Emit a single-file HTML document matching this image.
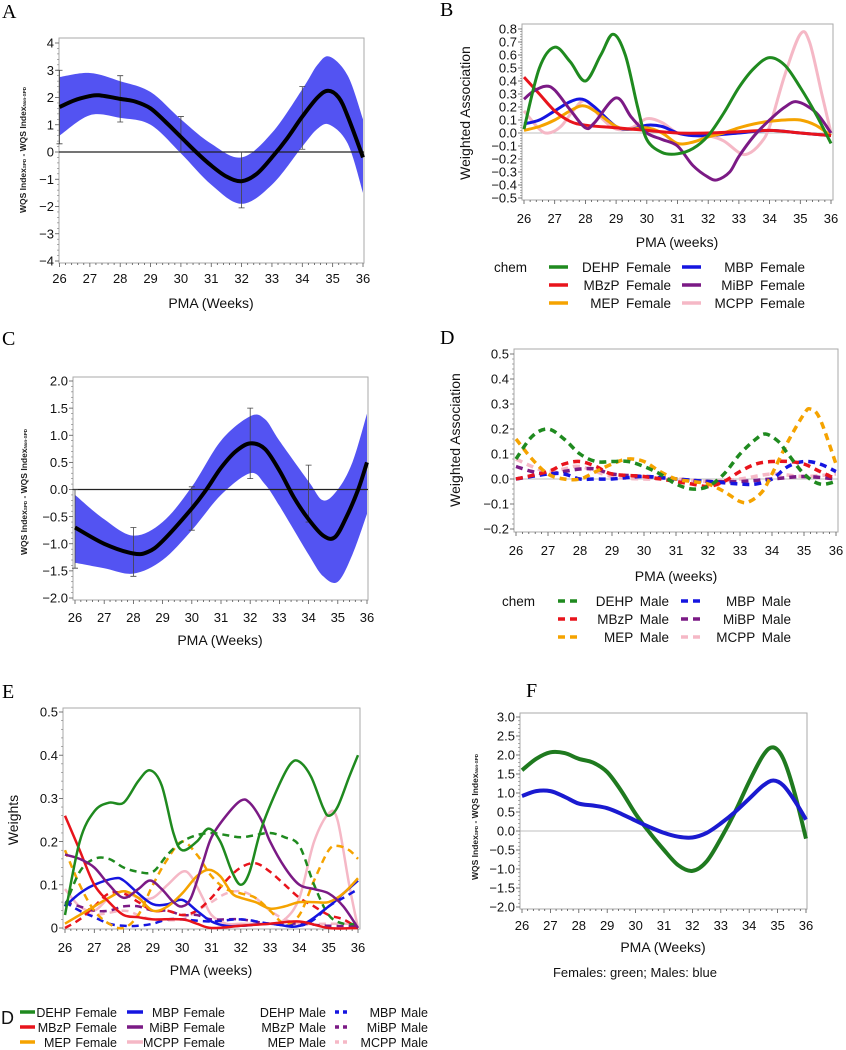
<!DOCTYPE html>
<html><head><meta charset="utf-8">
<style>
html,body{margin:0;padding:0;background:#fff;}
svg{display:block;font-family:"Liberation Sans",sans-serif;}
.plabel{font-family:"Liberation Serif",serif;font-size:20px;fill:#000;}
</style></head>
<body>
<svg id="fig" width="846" height="1050" viewBox="0 0 846 1050" xmlns="http://www.w3.org/2000/svg"></svg>
<script>
// ---------- DATA ----------
const weekTicks = [26,27,28,29,30,31,32,33,34,35,36];
// Panel A (females)
const aTicksY = [-4,-3,-2,-1,0,1,2,3,4];
const aX = [26,26.5,27,27.3,28,28.5,29,29.5,30,30.5,31,31.5,32,32.5,33,33.5,34,34.5,34.85,35.2,35.5,36];
const aY = [1.65,1.9,2.05,2.08,1.95,1.85,1.6,1.1,0.55,0.0,-0.5,-0.9,-1.07,-0.8,-0.2,0.5,1.3,2.0,2.25,2.0,1.3,-0.2];
const aBandX = [26,27,28,29,30,31,32,33,34,34.5,34.9,35.5,36];
const aUpper = [2.75,2.9,2.6,2.2,1.2,0.3,-0.2,0.7,2.3,3.2,3.5,2.8,1.2];
const aLower = [0.6,1.35,1.25,1.0,-0.05,-1.2,-1.9,-1.2,0.2,0.85,1.0,0.3,-1.5];
const aErrX = [26,28,30,32,34];
const aErrLo = [0.3,1.1,0.0,-2.05,0.1];
const aErrHi = [3.0,2.8,1.3,0.0,2.4];
// Panel C (males)
const cTicksY = [-2,-1.5,-1,-0.5,0,0.5,1,1.5,2];
const cX = [26,27,28,28.5,29,30,30.5,31,31.5,32,32.5,33,33.5,34,34.5,34.9,35.3,35.7,36];
const cY = [-0.7,-1.0,-1.18,-1.15,-0.95,-0.35,0,0.4,0.7,0.85,0.75,0.35,-0.15,-0.55,-0.85,-0.88,-0.5,0,0.5];
const cBandX = [26,27,28,29,30,31,32,32.5,33,34,34.5,35,35.5,36];
const cUpper = [-0.1,-0.55,-0.85,-0.6,0.05,0.9,1.35,1.3,0.9,0.15,-0.2,0.0,0.5,1.4];
const cLower = [-1.35,-1.45,-1.55,-1.3,-0.75,-0.1,0.3,0.1,-0.3,-1.2,-1.6,-1.7,-1.2,-0.45];
const cErrX = [26,28,30,32,34];
const cErrLo = [-1.45,-1.6,-0.75,0.2,-0.6];
const cErrHi = [0.0,-0.7,0.05,1.5,0.45];
// Panel B (female weighted association)
const bTicksY = [-0.5,-0.4,-0.3,-0.2,-0.1,0,0.1,0.2,0.3,0.4,0.5,0.6,0.7,0.8];
const bDEHPx = [26,26.5,27,27.5,28,28.5,28.9,29.3,29.7,30,30.5,31,31.5,32,32.5,33,33.5,34,34.5,35,35.5,36];
const bDEHPy = [0.03,0.5,0.66,0.55,0.4,0.6,0.76,0.6,0.2,-0.05,-0.15,-0.16,-0.12,-0.02,0.15,0.35,0.5,0.58,0.52,0.35,0.15,-0.08];
const bMBzPx = [26,26.5,27,27.5,28,29,30,31,32,33,34,35,36];
const bMBzPy = [0.43,0.3,0.17,0.09,0.06,0.04,0.02,0.0,0.0,0.01,0.02,0.0,-0.02];
const bMEPx = [26,26.5,27,27.5,27.9,28.3,29,29.5,30,30.5,31,31.5,32,32.5,33,33.5,34,34.5,35,35.5,36];
const bMEPy = [0.02,0.05,0.1,0.17,0.21,0.17,0.05,0.03,0.04,0.0,-0.08,-0.07,-0.03,0.0,0.04,0.07,0.09,0.1,0.1,0.06,-0.02];
const bMBPx = [26,26.5,27,27.5,27.9,28.3,29,29.5,30,30.5,31,31.5,32,33,34,35,36];
const bMBPy = [0.07,0.1,0.17,0.24,0.26,0.2,0.05,0.03,0.06,0.05,0.0,-0.02,-0.02,0.0,0.02,0.0,-0.02];
const bMiBPx = [26,26.3,26.7,27,27.5,28,28.3,29,29.5,30,30.5,31,31.5,32,32.3,32.7,33,33.5,34,34.5,34.9,35.5,36];
const bMiBPy = [0.26,0.32,0.36,0.33,0.18,0.04,0.08,0.27,0.12,0.0,-0.05,-0.1,-0.25,-0.34,-0.36,-0.3,-0.18,-0.02,0.1,0.2,0.24,0.16,0.0];
const bMCPPx = [26,26.5,26.8,27.2,27.6,28,28.5,29,29.5,30,30.5,31,31.5,32,32.5,33,33.3,33.7,34,34.5,35,35.3,35.7,36];
const bMCPPy = [0.17,0.03,0.0,0.05,0.17,0.25,0.12,0.03,0.04,0.11,0.08,0.0,-0.01,-0.02,-0.06,-0.15,-0.16,-0.08,0.05,0.45,0.76,0.7,0.3,0.0];
// Panel D (male weighted association)
const dTicksY = [-0.2,-0.1,0,0.1,0.2,0.3,0.4,0.5];
const dDEHPx = [26,26.5,27,27.5,28,28.5,29,29.5,30,30.5,31,31.5,32,32.5,33,33.5,33.8,34.2,34.5,35,35.5,36];
const dDEHPy = [0.08,0.17,0.2,0.16,0.1,0.07,0.07,0.07,0.05,0.02,-0.02,-0.04,-0.03,0.02,0.1,0.16,0.18,0.15,0.1,0.02,-0.02,-0.01];
const dMBzPx = [26,27,27.5,28,28.5,29,30,31,31.5,32,32.5,33,33.5,34,34.5,35,35.5,36];
const dMBzPy = [0.0,0.03,0.06,0.07,0.05,0.02,0.01,-0.01,-0.02,-0.03,-0.01,0.03,0.06,0.07,0.07,0.06,0.03,0.0];
const dMEPx = [26,26.5,27,27.5,28,28.5,29,29.5,30,30.5,31,31.5,32,32.5,33,33.3,33.7,34,34.5,35,35.2,35.5,36];
const dMEPy = [0.16,0.08,0.02,0.0,0.0,0.03,0.06,0.08,0.07,0.03,0.0,-0.01,-0.02,-0.05,-0.09,-0.09,-0.05,0.02,0.15,0.26,0.28,0.24,0.06];
const dMBPx = [26,27,27.5,28,28.5,29,30,31,32,33,33.5,34,34.5,35,35.5,36];
const dMBPy = [0.0,0.02,0.02,0.0,0.0,0.0,0.01,0.0,-0.01,-0.02,-0.02,0.0,0.05,0.07,0.06,0.03];
const dMiBPx = [26,26.5,27,27.5,28,28.5,29,30,31,32,33,34,35,36];
const dMiBPy = [0.05,0.03,0.02,0.03,0.04,0.04,0.02,0.01,0.0,-0.01,-0.01,0.0,0.01,0.0];
const dMCPPx = [26,26.5,27,27.5,28,29,30,31,32,33,34,35,36];
const dMCPPy = [0.08,0.05,0.03,0.04,0.05,0.01,0.0,0.0,-0.01,0.0,0.02,0.01,0.02];
// Panel E (weights)
const eTicksY = [0,0.1,0.2,0.3,0.4,0.5];
const eTickLabels = ["0","0.1","0.2","0.3","0.4","0.5"];
const efDEHPx = [26,26.5,27,27.5,28,28.5,28.9,29.3,29.7,30,30.5,30.9,31.3,31.7,32,32.3,32.7,33.3,33.7,34,34.4,34.8,35,35.3,35.7,36];
const efDEHPy = [0.03,0.2,0.27,0.29,0.29,0.34,0.365,0.33,0.22,0.18,0.2,0.23,0.2,0.13,0.1,0.13,0.23,0.33,0.38,0.385,0.35,0.28,0.26,0.28,0.35,0.4];
const efMBzPx = [26,26.5,27,27.5,28,28.5,29,30,30.5,31,32,33,34,35,36];
const efMBzPy = [0.26,0.18,0.1,0.06,0.03,0.025,0.02,0.02,0.01,0.0,0.005,0.01,0.015,0.0,0.0];
const efMEPx = [26,26.5,27,27.5,28,28.5,29,29.5,30,30.5,30.9,31.3,31.7,32,32.5,33,33.5,34,34.5,35,35.5,36];
const efMEPy = [0.01,0.03,0.05,0.07,0.085,0.07,0.04,0.05,0.08,0.12,0.135,0.12,0.08,0.07,0.06,0.045,0.05,0.06,0.06,0.06,0.08,0.115];
const efMBPx = [26,26.5,27,27.7,28,28.5,29,29.5,30,30.5,31,31.5,32,33,34,35,35.5,36];
const efMBPy = [0.05,0.08,0.1,0.115,0.11,0.08,0.055,0.055,0.065,0.04,0.015,0.005,0.005,0.01,0.005,0.05,0.08,0.11];
const efMiBPx = [26,26.5,27,27.5,28,28.5,28.9,29.3,29.7,30,30.3,30.7,31,31.5,32,32.3,32.7,33,33.5,34,34.5,35,35.5,36];
const efMiBPy = [0.17,0.16,0.14,0.1,0.07,0.09,0.11,0.09,0.06,0.05,0.07,0.15,0.21,0.26,0.295,0.29,0.25,0.2,0.14,0.1,0.09,0.08,0.05,0.0];
const efMCPPx = [26,26.5,27,27.5,28,28.5,29,29.5,30,30.3,30.7,31,31.5,32,33,33.5,34,34.5,35,35.3,35.7,36];
const efMCPPy = [0.09,0.05,0.04,0.07,0.085,0.07,0.07,0.1,0.13,0.12,0.07,0.03,0.01,0.01,0.01,0.02,0.07,0.2,0.265,0.25,0.1,0.0];
const emDEHPx = [26,26.5,27,27.5,28,28.5,29,29.5,30,30.5,31,31.5,32,32.5,33,33.5,34,34.5,35,35.5,36];
const emDEHPy = [0.05,0.13,0.16,0.16,0.14,0.13,0.13,0.17,0.2,0.215,0.22,0.215,0.21,0.215,0.22,0.21,0.19,0.1,0.03,0.01,0.01];
const emMBzPx = [26,26.5,27,27.5,28,28.5,29,29.5,30,30.5,31,31.5,32,32.5,33,33.5,34,34.5,35,35.5,36];
const emMBzPy = [0.0,0.02,0.05,0.08,0.08,0.06,0.04,0.04,0.03,0.04,0.07,0.11,0.14,0.15,0.13,0.1,0.07,0.05,0.03,0.02,0.0];
const emMEPx = [26,26.5,27,27.5,28,28.5,29,29.5,30,30.5,31,31.5,32,32.5,33,33.5,34,34.5,35,35.3,35.7,36];
const emMEPy = [0.18,0.1,0.04,0.01,0.0,0.03,0.1,0.16,0.2,0.17,0.12,0.09,0.08,0.07,0.04,0.01,0.03,0.11,0.18,0.19,0.18,0.16];
const emMBPx = [26,26.5,27,27.5,28,28.5,29,29.5,30,31,32,33,34,34.5,35,35.5,36];
const emMBPy = [0.06,0.04,0.025,0.01,0.005,0.005,0.01,0.02,0.02,0.015,0.02,0.01,0.005,0.02,0.05,0.07,0.09];
const emMiBPx = [26,26.5,27,27.5,28,28.5,29,29.5,30,30.5,31,32,33,34,35,36];
const emMiBPy = [0.06,0.05,0.04,0.04,0.05,0.05,0.04,0.04,0.03,0.03,0.02,0.02,0.01,0.01,0.005,0.005];
const emMCPPx = [26,26.5,27,28,28.5,29,30,30.5,31,31.5,32,32.5,33,33.5,34,35,36];
const emMCPPy = [0.06,0.04,0.03,0.04,0.03,0.02,0.02,0.04,0.06,0.08,0.085,0.07,0.04,0.02,0.01,0.01,0.01];
// Panel F
const fTicksY = [-2,-1.5,-1,-0.5,0,0.5,1,1.5,2,2.5,3];
const fX = [26,26.5,27,27.5,28,28.5,29,29.5,30,30.5,31,31.5,32,32.5,33,33.5,34,34.5,34.85,35.2,35.6,36];
const fFemale = [1.6,1.9,2.07,2.05,1.9,1.8,1.55,1.05,0.45,-0.05,-0.5,-0.9,-1.05,-0.8,-0.2,0.5,1.3,2.0,2.2,1.9,1.0,-0.2];
const fMale = [0.92,1.05,1.05,0.9,0.72,0.67,0.6,0.45,0.27,0.1,-0.05,-0.15,-0.17,-0.05,0.2,0.5,0.85,1.2,1.33,1.2,0.8,0.3];

// ---------- DRAWING ----------
const NS = "http://www.w3.org/2000/svg";
const fig = document.getElementById("fig");
const COL = {DEHP:"#1f8a1f",MBzP:"#e8141c",MEP:"#f5a300",MBP:"#1515e0",MiBP:"#7b1a85",MCPP:"#f5b8c6"};
function mk(tag, parent, attrs){
  const e = document.createElementNS(NS, tag);
  for (const k in attrs) e.setAttribute(k, attrs[k]);
  parent.appendChild(e);
  return e;
}
function fmt(v, dec){ return (v<0?"\u2212":"") + Math.abs(v).toFixed(dec); }
function smooth(px){
  let d = "M"+px[0][0].toFixed(1)+","+px[0][1].toFixed(1);
  for (let i=0;i<px.length-1;i++){
    const p0=px[Math.max(0,i-1)], p1=px[i], p2=px[i+1], p3=px[Math.min(px.length-1,i+2)];
    const c1=[p1[0]+(p2[0]-p0[0])/6, p1[1]+(p2[1]-p0[1])/6];
    const c2=[p2[0]-(p3[0]-p1[0])/6, p2[1]-(p3[1]-p1[1])/6];
    d += " C"+c1[0].toFixed(1)+","+c1[1].toFixed(1)+" "+c2[0].toFixed(1)+","+c2[1].toFixed(1)+" "+p2[0].toFixed(1)+","+p2[1].toFixed(1);
  }
  return d;
}
function makeAxes(name, g){
  const grp = mk("g", fig, {});
  
  
  const sx = v => g.x0 + (v-26)*(g.x1-g.x0)/10;
  const sy = v => g.yp0 + (v-g.yv0)*(g.yp1-g.yp0)/(g.yv1-g.yv0);
  const [l,t,r,b] = g.frame;
  const fr = mk("rect", grp, {x:l,y:t,width:r-l,height:b-t,fill:"#fff",stroke:"#aaa","stroke-width":1});
  
  
  const xa = mk("g", grp, {});
  
  
  for (let i=0;i<=50;i++){
    const xv = 26 + i*0.2, X = sx(xv);
    mk("line", xa, {x1:X,y1:b,x2:X,y2:b+(i%5===0?4:2),stroke:"#555","stroke-width":0.8});
  }
  weekTicks.forEach(w=>{
    const tx = mk("text", xa, {x:sx(w),y:g.xLabY,"text-anchor":"middle","font-size":g.fs,fill:"#111"});
    tx.textContent = w;
    
    
  });
  const ya = mk("g", grp, {});
  
  
  const ts = g.ticksY;
  for (let i=0;i<ts.length;i++){
    const Y = sy(ts[i]);
    mk("line", ya, {x1:l-4,y1:Y,x2:l,y2:Y,stroke:"#555","stroke-width":0.8});
    if (i<ts.length-1){
      for (let k=1;k<5;k++){ const yy = Y + (sy(ts[i+1])-Y)*k/5; mk("line", ya, {x1:l-2,y1:yy,x2:l,y2:yy,stroke:"#777","stroke-width":0.6}); }
    }
    const tx = mk("text", ya, {x:l-5,y:Y+g.fs*0.36,"text-anchor":"end","font-size":g.fs,fill:"#111"});
    tx.textContent = g.labels ? g.labels[i] : fmt(ts[i], g.dec);
    
    
  }
  return {grp, sx, sy};
}
function xTitle(grp, x, y, s){
  const t = mk("text", grp, {x:x,y:y,"text-anchor":"middle","font-size":14,fill:"#111"});
  t.textContent = s;
  
  
}
function yTitle(grp, x, y, s, fs){
  const t = mk("text", grp, {x:x,y:y,"text-anchor":"middle","font-size":fs,fill:"#111",transform:"rotate(-90 "+x+" "+y+")"});
  t.textContent = s;
  
  
}
function wqsTitle(grp, x, y){
  const t = mk("text", grp, {x:x,y:y,"text-anchor":"middle","font-size":8.5,"font-weight":"bold",fill:"#222",transform:"rotate(-90 "+x+" "+y+")"});
  
  
  t.innerHTML = 'WQS Index<tspan font-size="4.5">SPD</tspan> - WQS Index<tspan font-size="4.5">Non-SPD</tspan>';
}
function panelLabel(x, y, s){
  const t = mk("text", fig, {x:x,y:y,class:"plabel"});
  t.textContent = s;
  
  
}
function curve(grp, ax, xs, ys, color, w, dash, name){
  const pts = xs.map((x,i)=>[ax.sx(x), ax.sy(ys[i])]);
  const attrs = {d:smooth(pts),fill:"none",stroke:color,"stroke-width":w,"stroke-linecap":"butt","stroke-linejoin":"round"};
  if (dash) attrs["stroke-dasharray"] = dash;
  const p = mk("path", grp, attrs);
  
  
  return p;
}
function band(grp, ax, bx, up, lo, name){
  const u = bx.map((x,i)=>[ax.sx(x), ax.sy(up[i])]);
  const l = bx.map((x,i)=>[ax.sx(x), ax.sy(lo[i])]).reverse();
  const d = smooth(u) + " L" + l[0][0]+","+l[0][1] + smooth(l).replace(/^M[^C]*/,"") + " Z";
  const p = mk("path", grp, {d:d,fill:"#5353f2",stroke:"none"});
  
  
}
function errBars(grp, ax, xs, lo, hi){
  xs.forEach((x,i)=>{
    const X = ax.sx(x);
    const e = mk("path", grp, {d:"M"+X+","+ax.sy(lo[i])+"V"+ax.sy(hi[i])+"M"+(X-3)+","+ax.sy(lo[i])+"h6M"+(X-3)+","+ax.sy(hi[i])+"h6",stroke:"#444","stroke-width":0.8,fill:"none"});
    
    
  });
}
function zeroLine(grp, ax, frame, color, w){
  const z = mk("line", grp, {x1:frame[0],x2:frame[2],y1:ax.sy(0),y2:ax.sy(0),stroke:color,"stroke-width":w});
  
  
}
function legendEntry(parent, sx1, sx2, y, color, dash, label, lx, fs, ws){
  const g = mk("g", parent, {});
  
  
  if (sx2 > sx1){
    const a = {x1:sx1,x2:sx2,y1:y-5,y2:y-5,stroke:color,"stroke-width":3.5};
    if (dash) a["stroke-dasharray"]=dash;
    mk("line", g, a);
  }
  const t = mk("text", g, {x:lx,y:y,"text-anchor":"end","font-size":fs||13.5,fill:"#111","word-spacing":(ws===undefined?3:ws)});
  t.textContent = label;
}

// Panel A
panelLabel(2, 18, "A");
{
  const fr=[59,38,364,263];
  const ax = makeAxes("panel-a-chart", {frame:fr,x0:59.5,x1:363,yv0:4,yp0:43,yv1:-4,yp1:261,ticksY:aTicksY,dec:0,fs:13,xLabY:283});
  band(ax.grp, ax, aBandX, aUpper, aLower, "confidence-band");
  zeroLine(ax.grp, ax, fr, "#222", 1.3);
  errBars(ax.grp, ax, aErrX, aErrLo, aErrHi);
  curve(ax.grp, ax, aX, aY, "#000", 4, null, "wqs-difference-line");
  xTitle(ax.grp, 211, 308, "PMA  (Weeks)");
  wqsTitle(ax.grp, 26, 150);
}
// Panel B
panelLabel(440, 16, "B");
{
  const fr=[522,24,833,200];
  const ax = makeAxes("panel-b-chart", {frame:fr,x0:524,x1:831,yv0:0.8,yp0:29,yv1:-0.5,yp1:198,ticksY:bTicksY,dec:1,fs:13,xLabY:223});
  zeroLine(ax.grp, ax, fr, "#aaa", 0.8);
  curve(ax.grp, ax, bMCPPx, bMCPPy, COL.MCPP, 3, null, "mcpp-female-line");
  curve(ax.grp, ax, bMBPx, bMBPy, COL.MBP, 3, null, "mbp-female-line");
  curve(ax.grp, ax, bMEPx, bMEPy, COL.MEP, 3, null, "mep-female-line");
  curve(ax.grp, ax, bMBzPx, bMBzPy, COL.MBzP, 3, null, "mbzp-female-line");
  curve(ax.grp, ax, bMiBPx, bMiBPy, COL.MiBP, 3, null, "mibp-female-line");
  curve(ax.grp, ax, bDEHPx, bDEHPy, COL.DEHP, 3, null, "dehp-female-line");
  xTitle(ax.grp, 677, 247, "PMA  (weeks)");
  yTitle(ax.grp, 470, 113, "Weighted  Association", 14);
  const lg = mk("g", fig, {});
  
  
  const ct = mk("text", lg, {x:494,y:272,"font-size":13.5,fill:"#111"}); ct.textContent="chem";
  legendEntry(lg,549,568,272,COL.DEHP,null,"DEHP Female",671);
  legendEntry(lg,549,568,290,COL.MBzP,null,"MBzP Female",671);
  legendEntry(lg,549,568,308,COL.MEP,null,"MEP Female",671);
  legendEntry(lg,682,701,272,COL.MBP,null,"MBP Female",805);
  legendEntry(lg,682,701,290,COL.MiBP,null,"MiBP Female",805);
  legendEntry(lg,682,701,308,COL.MCPP,null,"MCPP Female",805);
}
// Panel C
panelLabel(2, 345, "C");
{
  const fr=[73,377,368,600];
  const ax = makeAxes("panel-c-chart", {frame:fr,x0:75,x1:367,yv0:2,yp0:381,yv1:-2,yp1:598,ticksY:cTicksY,dec:1,fs:13,xLabY:622});
  band(ax.grp, ax, cBandX, cUpper, cLower, "confidence-band");
  zeroLine(ax.grp, ax, fr, "#222", 1.3);
  errBars(ax.grp, ax, cErrX, cErrLo, cErrHi);
  curve(ax.grp, ax, cX, cY, "#000", 4, null, "wqs-difference-line");
  xTitle(ax.grp, 220, 645, "PMA  (Weeks)");
  wqsTitle(ax.grp, 27, 492);
}
// Panel D
panelLabel(440, 344, "D");
{
  const fr=[514,349,838,532];
  const ax = makeAxes("panel-d-chart", {frame:fr,x0:516,x1:836,yv0:0.5,yp0:354,yv1:-0.2,yp1:529,ticksY:dTicksY,dec:1,fs:13,xLabY:555});
  zeroLine(ax.grp, ax, fr, "#aaa", 0.8);
  const dsh = "7,5";
  curve(ax.grp, ax, dMCPPx, dMCPPy, COL.MCPP, 3.5, dsh, "mcpp-male-line");
  curve(ax.grp, ax, dMiBPx, dMiBPy, COL.MiBP, 3.5, dsh, "mibp-male-line");
  curve(ax.grp, ax, dMBPx, dMBPy, COL.MBP, 3.5, dsh, "mbp-male-line");
  curve(ax.grp, ax, dMBzPx, dMBzPy, COL.MBzP, 3.5, dsh, "mbzp-male-line");
  curve(ax.grp, ax, dMEPx, dMEPy, COL.MEP, 3.5, dsh, "mep-male-line");
  curve(ax.grp, ax, dDEHPx, dDEHPy, COL.DEHP, 3.5, dsh, "dehp-male-line");
  xTitle(ax.grp, 676, 581, "PMA  (weeks)");
  yTitle(ax.grp, 460, 440, "Weighted  Association", 14);
  const lg = mk("g", fig, {});
  
  
  const ct = mk("text", lg, {x:502,y:606,"font-size":13.5,fill:"#111"}); ct.textContent="chem";
  legendEntry(lg,558,580,606,COL.DEHP,"7,5","DEHP Male",669);
  legendEntry(lg,558,580,624,COL.MBzP,"7,5","MBzP Male",669);
  legendEntry(lg,558,580,642,COL.MEP,"7,5","MEP Male",669);
  legendEntry(lg,681,701,606,COL.MBP,"7,5","MBP Male",791);
  legendEntry(lg,681,701,624,COL.MiBP,"7,5","MiBP Male",791);
  legendEntry(lg,681,701,642,COL.MCPP,"7,5","MCPP Male",791);
}
// Panel E
panelLabel(2, 698, "E");
{
  const fr=[63,708,360,929];
  const ax = makeAxes("panel-e-chart", {frame:fr,x0:65,x1:358,yv0:0,yp0:928,yv1:0.5,yp1:712,ticksY:eTicksY,labels:eTickLabels,dec:1,fs:13,xLabY:952});
  const dsh = "7,5";
  curve(ax.grp, ax, emMCPPx, emMCPPy, COL.MCPP, 2.5, dsh, "mcpp-male-line");
  curve(ax.grp, ax, efMCPPx, efMCPPy, COL.MCPP, 2.5, null, "mcpp-female-line");
  curve(ax.grp, ax, emMiBPx, emMiBPy, COL.MiBP, 2.5, dsh, "mibp-male-line");
  curve(ax.grp, ax, emMBPx, emMBPy, COL.MBP, 2.5, dsh, "mbp-male-line");
  curve(ax.grp, ax, emMBzPx, emMBzPy, COL.MBzP, 2.5, dsh, "mbzp-male-line");
  curve(ax.grp, ax, emMEPx, emMEPy, COL.MEP, 2.5, dsh, "mep-male-line");
  curve(ax.grp, ax, emDEHPx, emDEHPy, COL.DEHP, 2.5, dsh, "dehp-male-line");
  curve(ax.grp, ax, efMBPx, efMBPy, COL.MBP, 2.5, null, "mbp-female-line");
  curve(ax.grp, ax, efMEPx, efMEPy, COL.MEP, 2.5, null, "mep-female-line");
  curve(ax.grp, ax, efMBzPx, efMBzPy, COL.MBzP, 2.5, null, "mbzp-female-line");
  curve(ax.grp, ax, efMiBPx, efMiBPy, COL.MiBP, 2.5, null, "mibp-female-line");
  curve(ax.grp, ax, efDEHPx, efDEHPy, COL.DEHP, 2.5, null, "dehp-female-line");
  xTitle(ax.grp, 211, 975, "PMA  (weeks)");
  yTitle(ax.grp, 18, 820, "Weights", 14);
  const lg = mk("g", fig, {});
  
  
  const dl = mk("text", lg, {x:1,y:1024,"font-size":18,fill:"#111"}); dl.textContent="D";
  const F = 12.5;
  legendEntry(lg,20,35,1017,COL.DEHP,null,"DEHP Female",117,F,1);
  legendEntry(lg,20,35,1032,COL.MBzP,null,"MBzP Female",117,F,1);
  legendEntry(lg,20,35,1047,COL.MEP,null,"MEP Female",117,F,1);
  legendEntry(lg,127,143,1017,COL.MBP,null,"MBP Female",225,F,1);
  legendEntry(lg,127,143,1032,COL.MiBP,null,"MiBP Female",225,F,1);
  legendEntry(lg,127,143,1047,COL.MCPP,null,"MCPP Female",225,F,1);
  legendEntry(lg,0,0,1017,COL.DEHP,null,"DEHP Male",326,F,1);
  legendEntry(lg,0,0,1032,COL.MBzP,null,"MBzP Male",326,F,1);
  legendEntry(lg,0,0,1047,COL.MEP,null,"MEP Male",326,F,1);
  legendEntry(lg,335,349,1017,COL.MBP,"4,4","MBP Male",428,F,1);
  legendEntry(lg,335,349,1032,COL.MiBP,"4,4","MiBP Male",428,F,1);
  legendEntry(lg,335,349,1047,COL.MCPP,"4,4","MCPP Male",428,F,1);
}
// Panel F
panelLabel(526, 697, "F");
{
  const fr=[520,713,807,909];
  const ax = makeAxes("panel-f-chart", {frame:fr,x0:522,x1:806,yv0:3,yp0:717,yv1:-2,yp1:907,ticksY:fTicksY,dec:1,fs:13,xLabY:930});
  zeroLine(ax.grp, ax, fr, "#aaa", 0.8);
  curve(ax.grp, ax, fX, fFemale, "#1f7a1f", 4, null, "female-wqs-line");
  curve(ax.grp, ax, fX, fMale, "#1a1ad0", 4, null, "male-wqs-line");
  xTitle(ax.grp, 663, 952, "PMA  (Weeks)");
  wqsTitle(ax.grp, 478, 817);
  const cap = mk("text", fig, {x:635,y:977,"text-anchor":"middle","font-size":13,fill:"#111"});
  cap.textContent = "Females:  green;  Males:  blue";
  
  
}
</script>
</body></html>
